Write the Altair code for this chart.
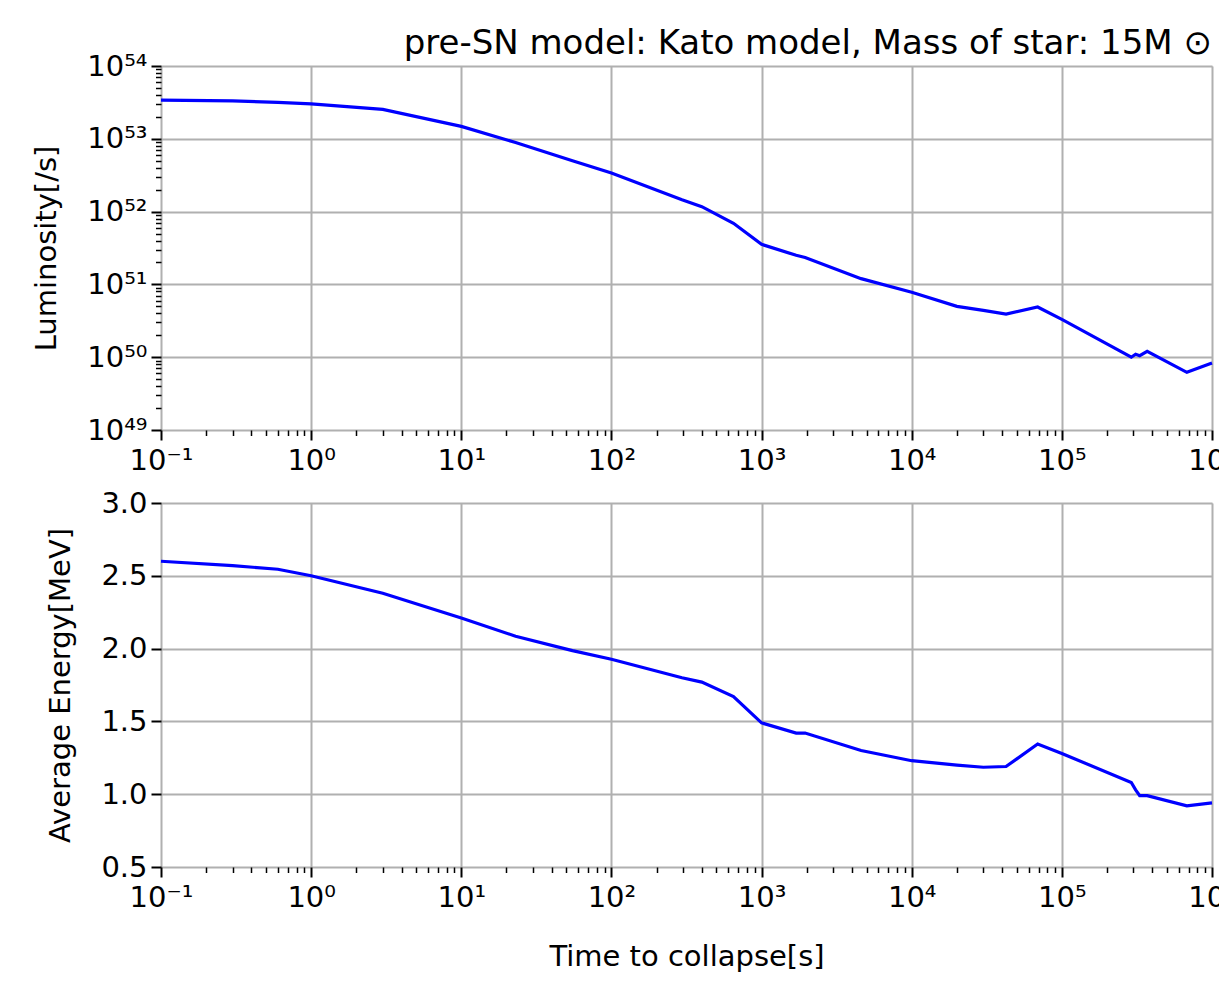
import altair as alt
import pandas as pd

# ---- data ----
time_s = [0.1, 0.3, 0.6, 1, 3, 10, 23, 55, 100, 295, 400, 650, 1000, 1700, 1950,
          4600, 10000, 20000, 30000, 42500, 69000, 100000, 290000, 310000, 330000,
          370000, 680000, 1000000]
luminosity = [3.39e53, 3.31e53, 3.16e53, 3.02e53, 2.54e53, 1.48e53, 8.9e52, 5.0e52,
              3.39e52, 1.45e52, 1.17e52, 6.9e51, 3.55e51, 2.51e51, 2.34e51,
              1.20e51, 7.8e50, 5.0e50, 4.4e50, 3.9e50, 4.9e50, 3.3e50, 1.0e50, 1.1e50,
              1.05e50, 1.2e50, 6.2e49, 8.3e49]
avg_energy = [2.60, 2.57, 2.545, 2.50, 2.38, 2.21, 2.085, 1.986, 1.927, 1.80, 1.77,
              1.67, 1.49, 1.42, 1.42, 1.30, 1.23, 1.20, 1.185, 1.19, 1.345, 1.28, 1.08,
              1.03, 0.99, 0.99, 0.92, 0.94]

x_tick_labels = ["10⁻¹", "10⁰", "10¹", "10²", "10³", "10⁴", "10⁵", "10⁶"]
lum_tick_labels = ["10⁴⁹", "10⁵⁰", "10⁵¹", "10⁵²", "10⁵³", "10⁵⁴"]
energy_ticks = [0.5, 1.0, 1.5, 2.0, 2.5, 3.0]

title_text = "pre-SN model: Kato model, Mass of star: 15M ⊙"

df = pd.DataFrame({"t": time_s, "L": luminosity, "E": avg_energy})

FONT = "DejaVu Sans"
FS = 29
TITLE_FS = 34
PLOT_W = 1051
PLOT_H = 364

x_vals = [m * 10.0 ** k for k in range(-1, 6) for m in range(1, 10)] + [1e6]
y_vals = [m * 10.0 ** k for k in range(49, 54) for m in range(1, 10)] + [1e54]

major = "abs(log(datum.value)/LN10 - round(log(datum.value)/LN10)) < 1e-6"


def log_axis(labels, offset_exp, title=None, orient="bottom"):
    arr = "[" + ",".join("'" + s + "'" for s in labels) + "]"
    expr = f"({major}) ? {arr}[round(log(datum.value)/LN10)-({offset_exp})] : ''"
    return alt.Axis(
        values=x_vals if orient == "bottom" else y_vals,
        labelExpr=expr,
        labelOverlap=False,
        labelFlush=False,
        labelFont=FONT,
        labelFontSize=FS,
        labelColor="black",
        labelPadding=6 if orient == "bottom" else 4,
        tickColor="black",
        tickSize={"condition": {"test": major, "value": 10}, "value": 5.5},
        tickWidth={"condition": {"test": major, "value": 2}, "value": 1.5},
        grid=True,
        gridColor="#b0b0b0",
        gridWidth=2,
        gridOpacity={"condition": {"test": major, "value": 1}, "value": 0},
        domain=False,
        title=title,
        titleFont=FONT,
        titleFontSize=FS,
        titleFontWeight="normal",
        titleColor="black",
        titlePadding=30 if orient == "bottom" else 25,
        orient=orient,
    )


x_scale = alt.Scale(type="log", domain=[0.1, 1e6], nice=False)

top = alt.Chart(df).mark_line(color="#0000ff", strokeWidth=3.2).encode(
    x=alt.X("t:Q", scale=x_scale, axis=log_axis(x_tick_labels, -1)),
    y=alt.Y("L:Q", scale=alt.Scale(type="log", domain=[1e49, 1e54], nice=False),
            axis=log_axis(lum_tick_labels, 49, title="Luminosity[/s]", orient="left")),
).properties(
    width=PLOT_W, height=PLOT_H,
    title=alt.TitleParams(text=title_text, anchor="end", frame="group", font=FONT,
                          fontSize=TITLE_FS, fontWeight="normal", color="black",
                          offset=6, dy=15),
)

bottom = alt.Chart(df).mark_line(color="#0000ff", strokeWidth=3.2).encode(
    x=alt.X("t:Q", scale=x_scale,
            axis=log_axis(x_tick_labels, -1, title="Time to collapse[s]")),
    y=alt.Y("E:Q", scale=alt.Scale(domain=[0.5, 3.0], nice=False, zero=False),
            axis=alt.Axis(values=energy_ticks, format=".1f", title="Average Energy[MeV]",
                          labelFont=FONT, labelFontSize=FS, labelColor="black",
                          labelPadding=4, labelOverlap=False, labelFlush=False,
                          tickColor="black", tickSize=10, tickWidth=2,
                          grid=True, gridColor="#b0b0b0", gridWidth=2, domain=False,
                          titleFont=FONT, titleFontSize=FS, titleFontWeight="normal",
                          titleColor="black", titlePadding=25)),
).properties(width=PLOT_W, height=PLOT_H)

chart = alt.vconcat(top, bottom, spacing=73, bounds="flush").configure_view(
    stroke="black", strokeWidth=2
).configure(background="white")

# fixed canvas (fits the window) so the 10^6 label is clipped at the right edge, as in the reference
vega_patch = [
    {"op": "add", "path": "/autosize", "value": {"type": "none"}},
    {"op": "add", "path": "/padding", "value": {"left": 153, "top": 58, "right": 7, "bottom": 0}},
    {"op": "add", "path": "/width", "value": PLOT_W},
    {"op": "add", "path": "/height", "value": 908},
]

chart.save("out.html", embed_options={"renderer": "svg", "actions": False, "patch": vega_patch})
